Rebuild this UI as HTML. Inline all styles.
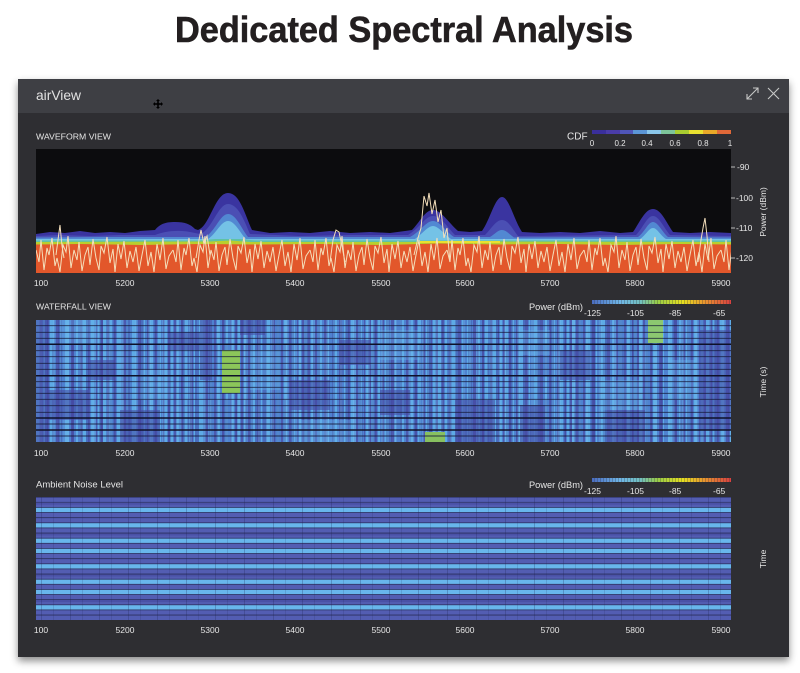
<!DOCTYPE html>
<html><head><meta charset="utf-8"><style>
html,body{margin:0;padding:0;background:#fff;width:800px;height:673px;overflow:hidden}
svg{display:block}
text{font-family:"Liberation Sans",sans-serif}
</style></head><body>
<svg width="800" height="673" viewBox="0 0 800 673" xmlns="http://www.w3.org/2000/svg">
<defs>
<filter id="sh" x="-5%" y="-5%" width="110%" height="115%"><feDropShadow dx="0" dy="4" stdDeviation="4" flood-color="#000" flood-opacity="0.45"/></filter>
<clipPath id="cw"><rect x="36" y="149" width="695" height="124"/></clipPath>
<clipPath id="cf"><rect x="36" y="320" width="695" height="122"/></clipPath>
<clipPath id="ca"><rect x="36" y="497" width="695" height="123"/></clipPath>
<pattern id="wl" patternUnits="userSpaceOnUse" x="36" y="0" width="137" height="673">
<polyline fill="none" stroke="#f4dfbb" stroke-width="1" points="0,250 3,262 5,240 8,270 11,248 13,255 16,238 19,266 21,258 24,272 27,245 30,252 32,236 35,268 38,250 41,260 43,242 46,271 49,255 52,247 54,265 57,239 60,258 63,270 65,246 68,253 71,237 74,263 77,249 79,272 82,244 85,259 88,241 91,268 94,251 97,262 100,247 103,271 106,255 109,240 112,266 115,252 118,272 121,244 124,260 127,238 130,269 133,256 137,250"/>
</pattern>
<pattern id="p1" patternUnits="userSpaceOnUse" x="36" y="0" width="67" height="10">
<rect width="67" height="10" fill="#4f82d0"/>
<rect x="0" width="3" height="10" fill="#5eaae6"/><rect x="7" width="2" height="10" fill="#5eaae6"/><rect x="14" width="4" height="10" fill="#5eaae6"/><rect x="24" width="1" height="10" fill="#5eaae6"/><rect x="29" width="4" height="10" fill="#5eaae6"/><rect x="40" width="2" height="10" fill="#5eaae6"/><rect x="47" width="3" height="10" fill="#5eaae6"/><rect x="55" width="3" height="10" fill="#5eaae6"/><rect x="62" width="2" height="10" fill="#5eaae6"/>
<rect x="4" width="2" height="10" fill="#4b5bb0"/><rect x="11" width="2" height="10" fill="#4b5bb0"/><rect x="20" width="3" height="10" fill="#4b5bb0"/><rect x="35" width="3" height="10" fill="#4b5bb0"/><rect x="44" width="2" height="10" fill="#4b5bb0"/><rect x="52" width="2" height="10" fill="#4b5bb0"/><rect x="60" width="1" height="10" fill="#4b5bb0"/><rect x="65" width="2" height="10" fill="#4b5bb0"/>
</pattern>
<pattern id="p2" patternUnits="userSpaceOnUse" x="36" y="0" width="41" height="10">
<rect x="3" width="3" height="10" fill="#74bcee" opacity="0.3"/><rect x="17" width="2" height="10" fill="#74bcee" opacity="0.3"/><rect x="30" width="3" height="10" fill="#74bcee" opacity="0.3"/>
<rect x="9" width="3" height="10" fill="#40459c" opacity="0.35"/><rect x="22" width="4" height="10" fill="#40459c" opacity="0.35"/><rect x="36" width="2" height="10" fill="#40459c" opacity="0.35"/>
</pattern>
<pattern id="p3" patternUnits="userSpaceOnUse" x="50" y="0" width="29" height="10">
<rect x="2" width="2" height="10" fill="#40459c" opacity="0.3"/><rect x="13" width="3" height="10" fill="#74bcee" opacity="0.25"/><rect x="21" width="2" height="10" fill="#40459c" opacity="0.25"/>
</pattern>
<pattern id="av" patternUnits="userSpaceOnUse" x="36" y="0" width="29" height="10">
<rect x="5" width="1" height="10" fill="#1c2050" opacity="0.25"/><rect x="17" width="1" height="10" fill="#1c2050" opacity="0.15"/>
</pattern>
<pattern id="seg" patternUnits="userSpaceOnUse" x="592" y="0" width="3" height="10">
<rect x="2.2" width="0.8" height="10" fill="#2d2e33" opacity="0.35"/>
</pattern>
<linearGradient id="pg" x1="592" x2="731" y1="0" y2="0" gradientUnits="userSpaceOnUse">
<stop offset="0" stop-color="#4a6cc0"/><stop offset="0.2" stop-color="#6fb6e8"/><stop offset="0.35" stop-color="#72c0c0"/><stop offset="0.47" stop-color="#98cc48"/><stop offset="0.65" stop-color="#e6e020"/><stop offset="0.82" stop-color="#e89030"/><stop offset="1" stop-color="#d84040"/>
</linearGradient>
</defs>

<rect width="800" height="673" fill="#fff"/>
<text x="175" y="42" font-size="36" font-weight="bold" textLength="458" lengthAdjust="spacingAndGlyphs" fill="#231f20" stroke="#231f20" stroke-width="0.6">Dedicated Spectral Analysis</text>

<!-- panel -->
<rect x="18" y="79" width="771" height="578" fill="#2d2e33" filter="url(#sh)"/>
<rect x="18" y="79" width="771" height="34" fill="#3e3f44"/>
<text x="36" y="100" font-size="14" fill="#e2e2e2" textLength="45" lengthAdjust="spacingAndGlyphs">airView</text>
<g transform="translate(158,104)" stroke="#000" stroke-width="1.6" fill="#000">
<line x1="-4" y1="0" x2="4" y2="0"/><line x1="0" y1="-4" x2="0" y2="4"/>
<polygon points="-5,0 -3,-2 -3,2" stroke="none"/><polygon points="5,0 3,-2 3,2" stroke="none"/><polygon points="0,-5 -2,-3 2,-3" stroke="none"/><polygon points="0,5 -2,3 2,3" stroke="none"/>
</g>
<g stroke="#c8c8c8" stroke-width="1.1" fill="none">
<line x1="747" y1="99" x2="758" y2="88"/><polyline points="753,88 758,88 758,93"/><polyline points="747,94 747,99 752,99"/>
<line x1="768" y1="88" x2="779" y2="99"/><line x1="779" y1="88" x2="768" y2="99"/>
</g>

<!-- ============ WAVEFORM ============ -->
<text x="36" y="139.5" font-size="8.5" fill="#e6e6e6" textLength="75" lengthAdjust="spacingAndGlyphs">WAVEFORM VIEW</text>
<text x="567" y="139.5" font-size="10" fill="#e6e6e6">CDF</text>
<g>
<rect x="592" y="130" width="14" height="4" fill="#3a2f9c"/><rect x="606" y="130" width="14" height="4" fill="#4a3ca8"/><rect x="620" y="130" width="13" height="4" fill="#4f55b8"/><rect x="633" y="130" width="14" height="4" fill="#5b95d6"/><rect x="647" y="130" width="14" height="4" fill="#8ac6ea"/><rect x="661" y="130" width="14" height="4" fill="#7dc49a"/><rect x="675" y="130" width="14" height="4" fill="#a8cc30"/><rect x="689" y="130" width="14" height="4" fill="#e8e030"/><rect x="703" y="130" width="14" height="4" fill="#e8a828"/><rect x="717" y="130" width="14" height="4" fill="#e06838"/>
</g>
<g font-size="8" fill="#e6e6e6" text-anchor="middle">
<text x="592" y="146">0</text><text x="620" y="146">0.2</text><text x="647" y="146">0.4</text><text x="675" y="146">0.6</text><text x="703" y="146">0.8</text><text x="730" y="146">1</text>
</g>

<g clip-path="url(#cw)">
<rect x="36" y="149" width="695" height="124" fill="#0c0c0e"/>
<path fill="#3a34a0" d="M36,273 L36,234 L50,232 L65,233 L80,231 L95,233 L110,232 L125,233 L140,231 L155,230 C160,224 165,222 175,222 C185,222 190,224 195,229 L198,230 C210,226 215,193 228,193 C240,193 245,215 252,230 L270,233 L290,232 L310,233 L330,231 L350,233 L370,232 L390,233 L405,231 L412,230 C420,222 425,210 433,210 C441,210 448,222 458,231 L470,232 L482,231 C490,220 495,197 502,197 C509,197 514,220 522,232 L540,233 L560,232 L580,233 L600,231 L620,233 L633,232 C640,222 645,209 653,209 C661,209 666,222 673,232 L690,233 L710,232 L731,233 L731,273 Z"/>
<path fill="#4b4fb4" d="M36,273 L36,236 L60,235 L90,236 L120,235 L155,235 C165,231 180,229 195,233 L200,234 C212,230 218,204 228,204 C238,204 244,220 250,234 L300,236 L350,235 L408,235 C420,228 425,216 433,216 C441,216 448,228 455,235 L485,235 C492,228 496,220 502,220 C508,220 512,228 518,236 L636,235 C643,228 647,216 653,216 C659,216 664,228 670,235 L731,236 L731,273 Z"/>
<path fill="#5288d2" d="M36,273 L36,237.5 L100,237 L205,237 C215,232 220,214 228,214 C236,214 241,228 248,237 L410,237 C420,232 426,221 433,221 C440,221 446,232 454,237 L490,237 C495,234 498,230 502,230 C506,230 509,234 514,237.5 L638,237 C645,232 648,222 653,222 C658,222 662,232 668,237 L731,237.5 L731,273 Z"/>
<path fill="#74c2e6" d="M36,273 L36,239 L208,239 C216,234 221,221 228,221 C235,221 240,233 246,239 L415,239 C422,234 428,226 433,226 C438,226 444,234 451,239 L640,239 C646,235 649,228 653,228 C657,228 660,235 666,239 L731,239 L731,273 Z"/>
<path fill="#5fc2a4" d="M36,273 L36,240.5 L200,240.5 L215,239 L240,239 L255,240.5 L731,240.5 L731,273 Z"/>
<path fill="#b9cf2e" d="M36,273 L36,242 L210,241.5 L230,240.5 L250,242 L420,242 L440,241 L470,241.5 L731,242 L731,273 Z"/>
<rect x="420" y="241" width="80" height="2" fill="#e8e030"/>
<path fill="#e2572b" d="M36,273 L36,244.5 L80,244 L140,245 L200,244 L260,244.5 L320,244 L380,245 L440,243.5 L500,244.5 L560,244 L620,245 L680,244 L731,244.5 L731,273 Z"/>
<rect x="36" y="149" width="695" height="124" fill="url(#wl)"/>
<polyline fill="none" stroke="#f4dfbb" stroke-width="1" points="414,255 418,238 421,228 424,196 427,206 429,193 432,214 435,200 438,222 441,210 444,238 447,228 450,262"/>
<polyline fill="none" stroke="#f4dfbb" stroke-width="1" points="56,255 58,240 60,225 62,246 64,258"/>
<polyline fill="none" stroke="#f4dfbb" stroke-width="1" points="196,258 199,240 201,230 204,244 207,236 210,255"/>
<polyline fill="none" stroke="#f4dfbb" stroke-width="1" points="698,262 701,240 703,228 705,218 707,236 709,262"/>
<polyline fill="none" stroke="#f4dfbb" stroke-width="1" points="330,262 333,240 336,230 339,232 342,246 345,262"/>
</g>
<g stroke="#bbb" stroke-width="1"><line x1="731" y1="167" x2="735" y2="167"/><line x1="731" y1="198" x2="735" y2="198"/><line x1="731" y1="228" x2="735" y2="228"/><line x1="731" y1="258" x2="735" y2="258"/></g>
<g font-size="8.5" fill="#e6e6e6">
<text x="737" y="170">-90</text><text x="736" y="201">-100</text><text x="736" y="231">-110</text><text x="736" y="261">-120</text>
</g>
<text transform="translate(766,212) rotate(-90)" font-size="8.5" fill="#e6e6e6" text-anchor="middle">Power (dBm)</text>
<g font-size="8.5" fill="#e6e6e6" text-anchor="middle">
<text x="41" y="286">100</text><text x="125" y="286">5200</text><text x="210" y="286">5300</text><text x="295" y="286">5400</text><text x="381" y="286">5500</text><text x="465" y="286">5600</text><text x="550" y="286">5700</text><text x="635" y="286">5800</text><text x="721" y="286">5900</text>
</g>

<!-- ============ WATERFALL ============ -->
<text x="36" y="309.5" font-size="8.5" fill="#e6e6e6" textLength="75" lengthAdjust="spacingAndGlyphs">WATERFALL VIEW</text>
<text x="529" y="310" font-size="9.5" fill="#e6e6e6" textLength="54" lengthAdjust="spacingAndGlyphs">Power (dBm)</text>
<rect x="592" y="300" width="139" height="4" fill="url(#pg)"/>
<rect x="592" y="300" width="139" height="4" fill="url(#seg)"/>
<g font-size="8.5" fill="#e6e6e6">
<text x="584" y="316">-125</text><text x="627" y="316">-105</text><text x="669" y="316">-85</text><text x="713" y="316">-65</text>
</g>
<g clip-path="url(#cf)">
<rect x="36" y="320" width="695" height="122" fill="url(#p1)"/>
<rect x="36" y="320" width="695" height="122" fill="url(#p2)"/>
<rect x="36" y="344" width="695" height="32" fill="url(#p3)"/>
<rect x="36" y="400" width="695" height="42" fill="url(#p3)"/>
<g fill="#4448a2" opacity="0.55">
<rect x="36" y="320" width="12" height="122"/><rect x="170" y="332" width="30" height="18"/><rect x="200" y="320" width="12" height="60"/><rect x="290" y="380" width="40" height="30"/><rect x="455" y="400" width="40" height="42"/><rect x="560" y="350" width="30" height="30"/><rect x="700" y="330" width="31" height="100"/><rect x="120" y="410" width="40" height="32"/><rect x="520" y="405" width="25" height="37"/><rect x="240" y="320" width="25" height="15"/><rect x="340" y="340" width="30" height="25"/><rect x="610" y="410" width="35" height="32"/><rect x="90" y="360" width="25" height="20"/><rect x="380" y="390" width="30" height="25"/><rect x="48" y="390" width="40" height="30"/>
</g>
<g fill="#6cbcf0" opacity="0.3">
<rect x="60" y="320" width="40" height="25"/><rect x="250" y="350" width="30" height="40"/><rect x="380" y="330" width="40" height="30"/><rect x="600" y="380" width="40" height="30"/><rect x="300" y="420" width="50" height="22"/><rect x="140" y="370" width="30" height="30"/><rect x="520" y="330" width="30" height="25"/><rect x="670" y="360" width="25" height="40"/>
</g>
<rect x="222" y="350" width="18" height="43" fill="#8cc65a"/>
<rect x="648" y="320" width="15" height="23" fill="#8cc870"/>
<rect x="425" y="432" width="20" height="10" fill="#88c060"/>
<g stroke="#141836" stroke-width="0.9" opacity="0.85">
<line x1="36" x2="731" y1="325.7" y2="325.7"/><line x1="36" x2="731" y1="332.3" y2="332.3"/><line x1="36" x2="731" y1="338.3" y2="338.3"/><line x1="36" x2="731" y1="350.7" y2="350.7"/><line x1="36" x2="731" y1="356.7" y2="356.7"/><line x1="36" x2="731" y1="363.3" y2="363.3"/><line x1="36" x2="731" y1="369.3" y2="369.3"/><line x1="36" x2="731" y1="381.7" y2="381.7"/><line x1="36" x2="731" y1="387.3" y2="387.3"/><line x1="36" x2="731" y1="393.3" y2="393.3"/><line x1="36" x2="731" y1="399.3" y2="399.3"/><line x1="36" x2="731" y1="405.7" y2="405.7"/><line x1="36" x2="731" y1="412.3" y2="412.3"/><line x1="36" x2="731" y1="424" y2="424"/><line x1="36" x2="731" y1="436" y2="436"/>
</g>
<g stroke="#0e1028" stroke-width="1.5">
<line x1="36" x2="731" y1="344.3" y2="344.3"/><line x1="36" x2="731" y1="375.7" y2="375.7"/><line x1="36" x2="731" y1="418" y2="418"/><line x1="36" x2="731" y1="430" y2="430"/>
</g>
</g>
<text transform="translate(766,382) rotate(-90)" font-size="8.5" fill="#e6e6e6" text-anchor="middle">Time (s)</text>
<g font-size="8.5" fill="#e6e6e6" text-anchor="middle">
<text x="41" y="456">100</text><text x="125" y="456">5200</text><text x="210" y="456">5300</text><text x="295" y="456">5400</text><text x="381" y="456">5500</text><text x="465" y="456">5600</text><text x="550" y="456">5700</text><text x="635" y="456">5800</text><text x="721" y="456">5900</text>
</g>

<!-- ============ AMBIENT ============ -->
<text x="36" y="487.5" font-size="9.5" fill="#e6e6e6" textLength="87" lengthAdjust="spacingAndGlyphs">Ambient Noise Level</text>
<text x="529" y="488" font-size="9.5" fill="#e6e6e6" textLength="54" lengthAdjust="spacingAndGlyphs">Power (dBm)</text>
<rect x="592" y="478" width="139" height="4" fill="url(#pg)"/>
<rect x="592" y="478" width="139" height="4" fill="url(#seg)"/>
<g font-size="8.5" fill="#e6e6e6">
<text x="584" y="494">-125</text><text x="627" y="494">-105</text><text x="669" y="494">-85</text><text x="713" y="494">-65</text>
</g>
<g clip-path="url(#ca)">
<rect x="36" y="497" width="695" height="123" fill="#2c3160"/>
<g fill="#535db2">
<rect x="36" y="497.6" width="695" height="4.3"/><rect x="36" y="502.7" width="695" height="4.3"/><rect x="36" y="512.9" width="695" height="4.3"/><rect x="36" y="518.1" width="695" height="4.3"/><rect x="36" y="528.3" width="695" height="4.3"/><rect x="36" y="533.5" width="695" height="4.3"/><rect x="36" y="543.7" width="695" height="4.3"/><rect x="36" y="553.9" width="695" height="4.3"/><rect x="36" y="559.1" width="695" height="4.3"/><rect x="36" y="569.3" width="695" height="4.3"/><rect x="36" y="574.5" width="695" height="4.3"/><rect x="36" y="584.7" width="695" height="4.3"/><rect x="36" y="594.9" width="695" height="4.3"/><rect x="36" y="600.1" width="695" height="4.3"/><rect x="36" y="610.3" width="695" height="4.3"/><rect x="36" y="615.5" width="695" height="4.5"/>
</g>
<g fill="#4a51a6">
<rect x="36" y="502.7" width="695" height="2"/><rect x="36" y="533.5" width="695" height="2"/><rect x="36" y="574.5" width="695" height="2"/><rect x="36" y="600.1" width="695" height="2"/>
</g>
<g fill="#68b6ec">
<rect x="36" y="507.8" width="695" height="4.3"/><rect x="36" y="523.2" width="695" height="4.3"/><rect x="36" y="538.6" width="695" height="4.3"/><rect x="36" y="548.8" width="695" height="4.3"/><rect x="36" y="564.2" width="695" height="4.3"/><rect x="36" y="579.6" width="695" height="4.3"/><rect x="36" y="589.8" width="695" height="4.3"/><rect x="36" y="605.2" width="695" height="4.3"/>
</g>
<rect x="36" y="497" width="695" height="123" fill="url(#av)"/>
</g>
<text transform="translate(766,559) rotate(-90)" font-size="8.5" fill="#e6e6e6" text-anchor="middle">Time</text>
<g font-size="8.5" fill="#e6e6e6" text-anchor="middle">
<text x="41" y="633">100</text><text x="125" y="633">5200</text><text x="210" y="633">5300</text><text x="295" y="633">5400</text><text x="381" y="633">5500</text><text x="465" y="633">5600</text><text x="550" y="633">5700</text><text x="635" y="633">5800</text><text x="721" y="633">5900</text>
</g>
</svg>
</body></html>
